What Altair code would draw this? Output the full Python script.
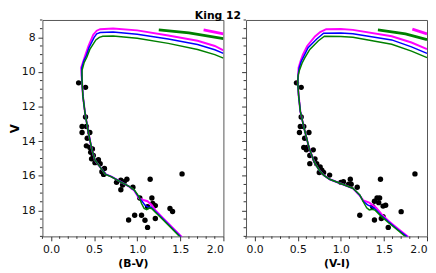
import altair as alt
import pandas as pd

# ---------------- observed stars ----------------
bv_color = [0.32, 0.40, 0.40, 0.36, 0.41, 0.36, 0.45, 0.42, 0.41, 0.45, 0.48, 0.46, 0.49, 0.47,
            0.55, 0.51, 0.57, 0.62, 0.59, 0.61, 0.76, 0.81, 0.85, 0.88, 0.83, 0.81, 0.95, 1.15,
            1.52, 1.03, 1.17, 1.18, 1.21, 1.12, 1.38, 1.41, 0.90, 0.97, 1.05, 1.09, 1.12, 1.21]
bv_mag = [10.63, 10.89, 12.6, 13.15, 13.15, 13.5, 13.5, 13.83, 14.27, 14.36, 14.45, 14.64, 14.83, 15.02,
          15.07, 15.24, 15.3, 15.58, 15.77, 15.92, 16.38, 16.25, 16.34, 16.2, 16.53, 16.81, 16.66, 16.2,
          15.89, 17.28, 17.28, 17.6, 17.72, 17.79, 17.89, 18.06, 18.55, 18.28, 18.28, 18.57, 18.98, 18.47]

vi_color = [0.485, 0.54, 0.54, 0.53, 0.57, 0.52, 0.63, 0.58, 0.57, 0.61, 0.60, 0.68, 0.64, 0.70,
            0.64, 0.72, 0.76, 0.78, 0.75, 0.80, 0.87, 1.00, 1.03, 1.11, 1.09, 1.12, 1.19, 1.46,
            1.86, 1.42, 1.45, 1.39, 1.44, 1.49, 1.52, 1.37, 1.70, 1.22, 1.39, 1.49, 1.47, 1.55]
vi_mag = [10.63, 10.89, 12.6, 13.15, 13.15, 13.5, 13.5, 13.83, 14.36, 14.36, 14.5, 14.5, 14.83, 15.02,
          15.3, 15.3, 15.49, 15.68, 15.81, 15.81, 15.96, 16.38, 16.34, 16.2, 16.49, 16.49, 16.66, 16.2,
          15.89, 17.28, 17.28, 17.47, 17.55, 17.75, 17.7, 17.79, 18.07, 18.28, 18.55, 18.36, 18.47, 18.98]

# ---------------- isochrones, (B-V) panel ----------------
bv_mag_iso_x = [1.53, 1.41, 1.30, 1.21, 1.17, 1.12, 1.07, 1.02, 0.965, 0.91, 0.80, 0.70, 0.63, 0.57, 0.51,
                0.47, 0.43, 0.395, 0.37, 0.36, 0.355, 0.35, 0.38, 0.40, 0.435, 0.49, 0.53, 0.57, 0.72,
                1.0, 1.36, 1.70, 1.9, 2.0]
bv_mag_iso_v = [19.6, 19.0, 18.45, 17.98, 17.7, 17.47, 17.4, 17.3, 16.85, 16.64, 16.32, 16.05, 15.9, 15.5, 15.1,
                14.4, 13.4, 12.4, 11.4, 10.6, 10.2, 9.75, 9.3, 9.0, 8.5, 7.85, 7.62, 7.53, 7.49,
                7.6, 7.9, 8.2, 8.5, 8.75]
bv_blu_iso_x = [1.52, 1.40, 1.30, 1.20, 1.16, 1.13, 1.09, 1.06, 1.02, 0.965, 0.91, 0.80, 0.70, 0.63, 0.57,
                0.51, 0.47, 0.43, 0.395, 0.37, 0.36, 0.355, 0.355, 0.38, 0.41, 0.44, 0.50, 0.53, 0.57,
                0.72, 1.0, 1.36, 1.70, 1.9, 2.0]
bv_blu_iso_v = [19.6, 19.0, 18.5, 18.0, 17.8, 17.82, 17.7, 17.5, 17.25, 16.83, 16.63, 16.33, 16.05, 15.9, 15.5,
                15.1, 14.4, 13.4, 12.4, 11.4, 10.6, 10.2, 9.8, 9.35, 9.05, 8.6, 8.0, 7.8, 7.72,
                7.7, 7.82, 8.1, 8.42, 8.72, 8.93]
bv_grn_iso_x = [1.51, 1.40, 1.29, 1.21, 1.17, 1.14, 1.11, 1.08, 1.05, 1.02, 0.965, 0.91, 0.80, 0.70, 0.63,
                0.57, 0.51, 0.47, 0.43, 0.395, 0.37, 0.36, 0.36, 0.36, 0.385, 0.415, 0.45, 0.52, 0.56,
                0.60, 0.72, 1.0, 1.36, 1.70, 1.9, 2.0]
bv_grn_iso_v = [19.6, 19.05, 18.5, 18.1, 17.9, 17.85, 17.95, 17.88, 17.6, 17.2, 16.81, 16.62, 16.34, 16.06, 15.92,
                15.5, 15.1, 14.4, 13.4, 12.4, 11.4, 10.6, 10.2, 9.9, 9.45, 9.15, 8.7, 8.15, 8.0,
                7.94, 7.93, 8.05, 8.35, 8.7, 9.0, 9.2]
bv_grn_giant_x = [1.25, 1.6, 2.0]
bv_grn_giant_v = [7.57, 7.75, 8.08]
bv_mag_giant_x = [1.77, 2.0]
bv_mag_giant_v = [7.57, 7.8]

# ---------------- isochrones, (V-I) panel ----------------
vi_mag_iso_x = [1.80, 1.66, 1.55, 1.47, 1.41, 1.33, 1.26, 1.22, 1.14, 0.99, 0.87, 0.80, 0.75, 0.69, 0.63,
                0.576, 0.53, 0.51, 0.50, 0.505, 0.51, 0.535, 0.56, 0.61, 0.70, 0.76, 0.83, 1.0, 1.14,
                1.59, 1.82, 2.0]
vi_mag_iso_v = [19.6, 19.05, 18.6, 18.2, 17.85, 17.55, 17.42, 17.15, 16.72, 16.43, 16.2, 15.96, 15.68, 15.2, 14.36,
                13.3, 12.28, 11.34, 10.6, 10.2, 9.75, 9.35, 9.0, 8.5, 7.95, 7.7, 7.53, 7.52, 7.57,
                7.94, 8.3, 8.68]
vi_blu_iso_x = [1.79, 1.66, 1.55, 1.46, 1.40, 1.36, 1.31, 1.26, 1.22, 1.14, 0.99, 0.87, 0.80, 0.75, 0.69,
                0.63, 0.576, 0.53, 0.51, 0.50, 0.505, 0.515, 0.54, 0.57, 0.62, 0.72, 0.80, 1.0, 1.14,
                1.59, 1.82, 2.0]
vi_blu_iso_v = [19.6, 19.1, 18.65, 18.25, 17.92, 17.8, 17.68, 17.47, 17.12, 16.72, 16.43, 16.2, 15.96, 15.68, 15.2,
                14.36, 13.3, 12.28, 11.34, 10.6, 10.2, 9.8, 9.4, 9.1, 8.6, 8.1, 7.76, 7.75, 7.8,
                8.15, 8.55, 8.93]
vi_grn_iso_x = [1.77, 1.65, 1.55, 1.46, 1.40, 1.37, 1.33, 1.30, 1.26, 1.22, 1.14, 0.99, 0.87, 0.80, 0.75,
                0.69, 0.63, 0.576, 0.53, 0.51, 0.50, 0.505, 0.52, 0.55, 0.58, 0.64, 0.74, 0.81, 1.0,
                1.14, 1.59, 1.82, 2.0]
vi_grn_iso_v = [19.6, 19.1, 18.7, 18.3, 18.0, 17.94, 17.97, 17.85, 17.5, 17.1, 16.72, 16.43, 16.2, 15.96, 15.68,
                15.2, 14.36, 13.3, 12.28, 11.34, 10.6, 10.2, 9.9, 9.5, 9.2, 8.7, 8.2, 7.94, 7.95,
                8.0, 8.4, 8.8, 9.17]
vi_grn_giant_x = [1.43, 1.75, 2.0]
vi_grn_giant_v = [7.57, 7.8, 8.13]
vi_mag_giant_x = [1.83, 2.0]
vi_mag_giant_v = [7.53, 7.8]

# axis tick values (major labelled, minor unlabelled)
x_major = [0.0, 0.5, 1.0, 1.5, 2.0]
x_minor = [-0.1, 0.1, 0.2, 0.3, 0.4, 0.6, 0.7, 0.8, 0.9, 1.1, 1.2, 1.3, 1.4, 1.6, 1.7, 1.8, 1.9]
y_major = [8, 10, 12, 14, 16, 18]
y_minor = [7.0, 7.5, 8.5, 9.0, 9.5, 10.5, 11.0, 11.5, 12.5, 13.0, 13.5, 14.5, 15.0, 15.5,
           16.5, 17.0, 17.5, 18.5, 19.0, 19.5]

X_DOM = [-0.1, 2.0]
Y_DOM = [7.0, 19.5]
FONT = "DejaVu Sans"
W, H = 184, 220
MAJ, MIN = 4.5, 2.5
TICK_COLOR = "#333"


def xaxis(title):
    return alt.Axis(values=x_major, title=title, grid=False, domain=False, format=".1f",
                    tickSize=MAJ, labelOverlap=False, labelPadding=3, titlePadding=3,
                    labelFont=FONT, labelFontSize=11, titleFont=FONT, titleFontSize=11,
                    titleFontWeight="bold", tickColor=TICK_COLOR, labelColor="#111",
                    titleColor="#000")


def yaxis(show):
    kw = dict(values=y_major, grid=False, domain=False, tickSize=MAJ, labelOverlap=False,
              tickColor=TICK_COLOR, labelFont=FONT, labelFontSize=11, labelColor="#111",
              labelPadding=3)
    if show:
        return alt.Axis(title="V", titleFont=FONT, titleFontSize=12, titleFontWeight="bold",
                        titleColor="#000", titlePadding=0, format="d", **kw)
    return alt.Axis(title=None, labels=False, **kw)


def seg_df(x, v):
    return pd.DataFrame({"x": x, "V": v, "i": list(range(len(x)))})


def panel(title, sx, sv, isos, giants, show_y):
    xs = alt.Scale(domain=X_DOM, nice=False, zero=False)
    ys = alt.Scale(domain=Y_DOM, reverse=True, nice=False, zero=False)
    pts = alt.Chart(pd.DataFrame({"x": sx, "V": sv})).mark_circle(
        size=30, color="black", opacity=1, clip=True).encode(
        x=alt.X("x:Q", scale=xs, axis=xaxis(title)),
        y=alt.Y("V:Q", scale=ys, axis=yaxis(show_y)))
    layers = [pts]
    for (x, v, col, w) in isos + giants:
        layers.append(alt.Chart(seg_df(x, v)).mark_line(color=col, strokeWidth=w, clip=True).encode(
            x=alt.X("x:Q", scale=xs), y=alt.Y("V:Q", scale=ys), order="i:Q"))
    # minor ticks
    layers.append(alt.Chart(pd.DataFrame({"V": y_minor})).mark_rule(
        color=TICK_COLOR, strokeWidth=1).encode(
        y=alt.Y("V:Q", scale=ys), x=alt.value(0), x2=alt.value(-MIN)))
    layers.append(alt.Chart(pd.DataFrame({"x": x_minor})).mark_rule(
        color=TICK_COLOR, strokeWidth=1).encode(
        x=alt.X("x:Q", scale=xs), y=alt.value(H), y2=alt.value(H + MIN)))
    return alt.layer(*layers).properties(width=W, height=H)


left = panel("(B-V)", bv_color, bv_mag,
             [(bv_mag_iso_x, bv_mag_iso_v, "#ff00ff", 2.0),
              (bv_blu_iso_x, bv_blu_iso_v, "#0000ff", 1.5),
              (bv_grn_iso_x, bv_grn_iso_v, "#008000", 1.5)],
             [(bv_grn_giant_x, bv_grn_giant_v, "#008000", 2.8),
              (bv_mag_giant_x, bv_mag_giant_v, "#ff00ff", 2.8)], True)
right = panel("(V-I)", vi_color, vi_mag,
              [(vi_mag_iso_x, vi_mag_iso_v, "#ff00ff", 2.0),
               (vi_blu_iso_x, vi_blu_iso_v, "#0000ff", 1.5),
               (vi_grn_iso_x, vi_grn_iso_v, "#008000", 1.5)],
              [(vi_grn_giant_x, vi_grn_giant_v, "#008000", 2.8),
               (vi_mag_giant_x, vi_mag_giant_v, "#ff00ff", 2.8)], False)

chart = alt.hconcat(left, right, spacing=16).properties(
    title=alt.TitleParams("King 12", font=FONT, fontSize=11, fontWeight="bold",
                          anchor="middle", offset=-2),
    padding={"left": 0, "top": 0, "right": 0, "bottom": 0},
    background="white",
).configure_view(stroke="#555", strokeWidth=1)

chart.save("out.html", embed_options={"renderer": "svg", "actions": False})
